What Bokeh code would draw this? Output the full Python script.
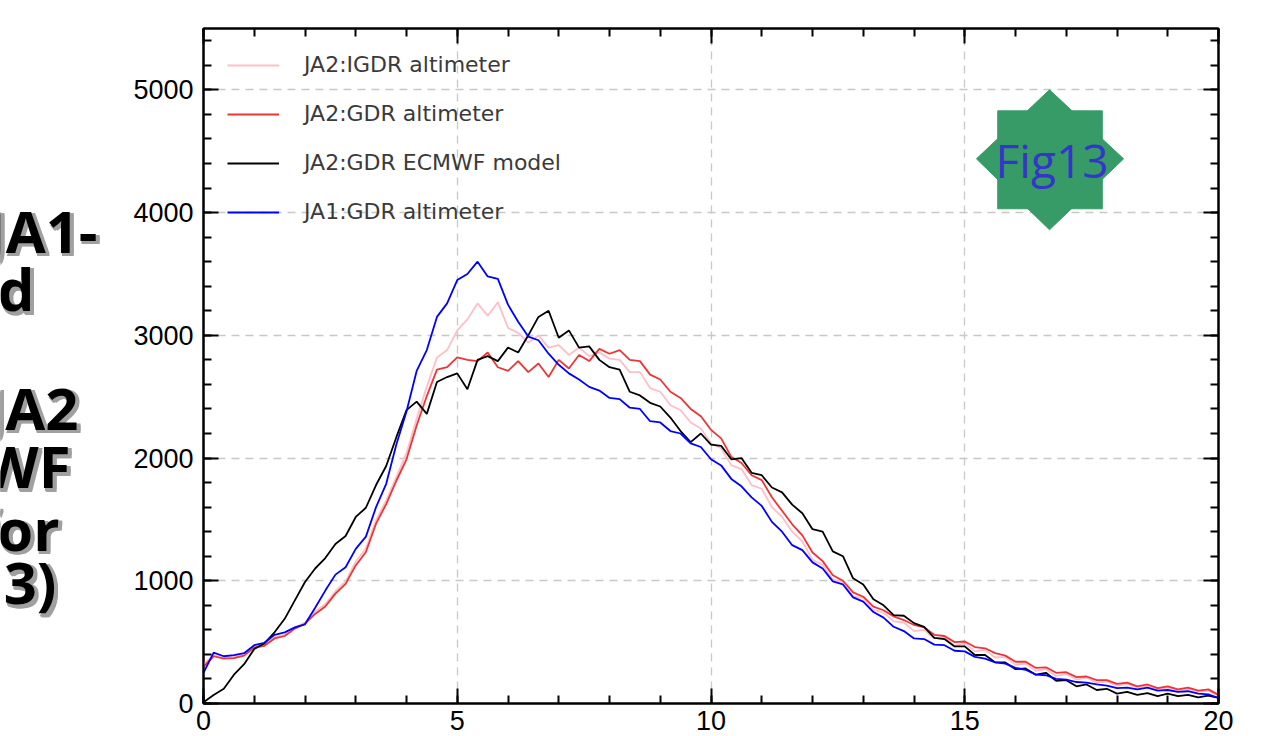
from bokeh.plotting import figure
from bokeh.layouts import row
from bokeh.models import (Range1d, FixedTicker, LinearAxis, Legend, LegendItem,
                          PolyAnnotation, Label)
from bokeh.core.properties import value
from bokeh.embed import file_html
from bokeh.resources import INLINE

# ---- data (wind speed bins, m/s) ----
wind = [round(i * 0.2, 1) for i in range(101)]

ja2_igdr_alt = [
    320, 395, 375, 380, 405, 465, 485, 540, 560, 620,
    660, 750, 810, 915, 995, 1155, 1265, 1495, 1655, 1845,
    2040, 2320, 2580, 2820, 2880, 3040, 3130, 3260, 3160, 3270,
    3060, 3020, 2940, 3000, 2900, 2920, 2840, 2900, 2830, 2860,
    2810, 2800, 2700, 2700, 2570, 2540, 2430, 2390, 2290, 2240,
    2120, 2080, 1940, 1910, 1780, 1750, 1600, 1520, 1400, 1320,
    1170, 1130, 1010, 990, 870, 860, 760, 740, 670, 660,
    590, 600, 530, 540, 470, 490, 425, 435, 375, 380,
    315, 325, 265, 280, 225, 240, 195, 210, 170, 180,
    145, 160, 130, 145, 115, 130, 105, 120, 95, 105,
    60]

ja2_gdr_alt = [
    300, 385, 365, 370, 390, 455, 470, 530, 550, 610,
    650, 730, 790, 895, 975, 1125, 1235, 1465, 1625, 1815,
    1990, 2265, 2505, 2720, 2740, 2820, 2800, 2790, 2860, 2740,
    2710, 2790, 2700, 2770, 2660, 2800, 2730, 2840, 2790, 2890,
    2850, 2880, 2800, 2790, 2680, 2640, 2540, 2490, 2400, 2340,
    2230, 2160, 2010, 1960, 1860, 1820, 1680, 1570, 1460, 1370,
    1230, 1160, 1045, 1000, 905, 870, 790, 760, 710, 680,
    640, 620, 560, 550, 500, 505, 460, 450, 410, 390,
    340, 340, 290, 295, 250, 255, 215, 220, 190, 190,
    160, 170, 140, 155, 125, 140, 115, 130, 105, 115,
    70]

ja2_gdr_ecmwf = [
    10, 70, 120, 235, 320, 445, 490, 580, 690, 840,
    990, 1100, 1185, 1300, 1365, 1520, 1595, 1780, 1935, 2170,
    2390, 2460, 2360, 2620, 2660, 2690, 2560, 2800, 2830, 2790,
    2900, 2860, 3000, 3150, 3200, 2980, 3040, 2900, 2910, 2800,
    2740, 2720, 2540, 2510, 2450, 2420, 2330, 2220, 2130, 2200,
    2110, 2100, 1990, 2000, 1880, 1860, 1760, 1720, 1620, 1550,
    1420, 1400, 1240, 1200, 1020, 970, 850, 800, 720, 715,
    655, 625, 535, 525, 465, 465, 395, 395, 335, 335,
    280, 285, 235, 250, 185, 190, 140, 155, 110, 120,
    80, 95, 70, 85, 60, 80, 60, 70, 50, 65,
    45]

ja1_gdr_alt = [
    250, 415, 385, 395, 410, 475, 495, 560, 580, 620,
    645, 780, 920, 1050, 1110, 1260, 1360, 1600, 1790, 2110,
    2380, 2710, 2880, 3150, 3260, 3450, 3500, 3600, 3480, 3460,
    3250, 3110, 2990, 2960, 2850, 2760, 2690, 2640, 2580, 2550,
    2490, 2480, 2410, 2400, 2300, 2290, 2220, 2200, 2120, 2090,
    1990, 1940, 1830, 1770, 1680, 1610, 1480, 1400, 1290, 1250,
    1150, 1100, 995, 970, 865, 830, 745, 700, 625, 590,
    530, 525, 480, 475, 430, 425, 380, 365, 335, 325,
    290, 275, 235, 230, 200, 195, 175, 170, 155, 145,
    125, 130, 115, 130, 105, 110, 95, 100, 80, 75,
    45]

series_labels = ["JA2:IGDR altimeter", "JA2:GDR altimeter",
                 "JA2:GDR ECMWF model", "JA1:GDR altimeter"]
series_colors = ["#FFBFC8", "#EE3535", "#000000", "#0000FF"]

x_major = [0, 5, 10, 15, 20]
x_minor = list(range(0, 21))
y_major = [0, 1000, 2000, 3000, 4000, 5000]
y_minor = list(range(0, 5600, 200))

side_words = ["JA1-", "and", "JA2", "ECMWF", "for", "(Fig13)"]
badge_text = "Fig13"

# ---- left strip: slide text that is cut by the picture's edge ----
side = figure(width=120, height=736, output_backend="svg", toolbar_location=None,
              x_range=Range1d(0, 120), y_range=Range1d(736, 0),
              x_axis_type=None, y_axis_type=None,
              min_border=0, min_border_left=0, min_border_right=0,
              min_border_top=0, min_border_bottom=0)
side.outline_line_color = None
side.xgrid.visible = False
side.ygrid.visible = False
side_x = [97, 34, 78, 70, 59, 56]
side_y = [220, 284, 413, 477, 545, 603]
for dx, dy in [(4, 4), (3, 2), (2, 4), (4, 1), (1, 3)]:
    side.text(x=[v + dx for v in side_x], y=[v + dy for v in side_y], text=side_words,
              text_align="right", text_baseline="alphabetic",
              text_font=value("Open Sans"), text_font_style="bold",
              text_font_size=value("58px"), text_color="#A0A0A0")
side.text(x=side_x, y=side_y, text=side_words,
          text_align="right", text_baseline="alphabetic",
          text_font=value("Open Sans"), text_font_style="bold",
          text_font_size=value("58px"), text_color="#000000")

# ---- main figure ----
p = figure(width=1152, height=736, output_backend="svg", toolbar_location=None,
           x_range=Range1d(0, 20), y_range=Range1d(0, 5500),
           min_border_left=83, min_border_right=54, min_border_top=28,
           min_border_bottom=33, background_fill_color="white",
           border_fill_color="white")
p.outline_line_color = "black"
p.outline_line_width = 2

tick_font = "Liberation Sans"


def style_axis(ax, ticks, minor, labels=True):
    ax.ticker = FixedTicker(ticks=ticks, minor_ticks=minor)
    ax.axis_line_color = "black"
    ax.axis_line_width = 2
    ax.major_tick_line_color = "black"
    ax.major_tick_line_width = 2
    ax.minor_tick_line_color = "black"
    ax.minor_tick_line_width = 2
    ax.major_tick_in = 15
    ax.major_tick_out = 0
    ax.minor_tick_in = 8
    ax.minor_tick_out = 0
    if labels:
        ax.major_label_text_font = tick_font
        ax.major_label_text_font_size = "27px"
        ax.major_label_text_color = "black"
    else:
        ax.major_label_overrides = {t: "" for t in ticks}
        ax.major_label_text_font_size = "1px"
        ax.major_label_standoff = 0


style_axis(p.xaxis[0], x_major, x_minor)
p.xaxis[0].major_label_standoff = 7
style_axis(p.yaxis[0], y_major, y_minor)
p.yaxis[0].major_label_standoff = 10

top_ax = LinearAxis()
style_axis(top_ax, x_major, x_minor, labels=False)
p.add_layout(top_ax, "above")
right_ax = LinearAxis()
style_axis(right_ax, y_major, y_minor, labels=False)
p.add_layout(right_ax, "right")

for g in (p.xgrid[0], p.ygrid[0]):
    g.grid_line_color = "#C8C8C8"
    g.grid_line_dash = "8 6"
    g.grid_line_width = 1.3

# ---- curves ----
renderers = []
for ys, col in zip([ja2_igdr_alt, ja2_gdr_alt, ja2_gdr_ecmwf, ja1_gdr_alt], series_colors):
    r = p.line(wind, ys, line_color=col, line_width=1.8)
    renderers.append(r)

legend = Legend(items=[LegendItem(label=lab, renderers=[r])
                       for lab, r in zip(series_labels, renderers)],
                location="top_left")
legend.background_fill_alpha = 0
legend.border_line_alpha = 0
legend.label_text_font = "DejaVu Sans"
legend.label_text_font_size = "22px"
legend.label_text_color = "#3A3A3A"
legend.glyph_width = 52
legend.glyph_height = 20
legend.label_height = 20
legend.label_standoff = 25
legend.spacing = 24
legend.margin = 10
legend.padding = 14
p.add_layout(legend)

# ---- Fig13 badge (8-pointed star) ----
badge_color = "#379B68"
p.add_layout(PolyAnnotation(xs=[15.65, 17.71, 17.71, 15.65],
                            ys=[4031, 4031, 4829, 4829],
                            fill_color=badge_color, fill_alpha=1,
                            line_color=badge_color, line_alpha=1, line_width=1))
p.add_layout(PolyAnnotation(xs=[16.67, 18.13, 16.67, 15.23],
                            ys=[5000, 4438, 3860, 4438],
                            fill_color=badge_color, fill_alpha=1,
                            line_color=badge_color, line_alpha=1, line_width=1))
p.add_layout(Label(x=16.72, y=4430, text=badge_text, text_align="center",
                   text_baseline="middle", text_font="Open Sans",
                   text_font_size="46px", text_color="#3535C8"))

layout = row(side, p, spacing=0)
open("out.html", "w").write(file_html(layout, INLINE))
